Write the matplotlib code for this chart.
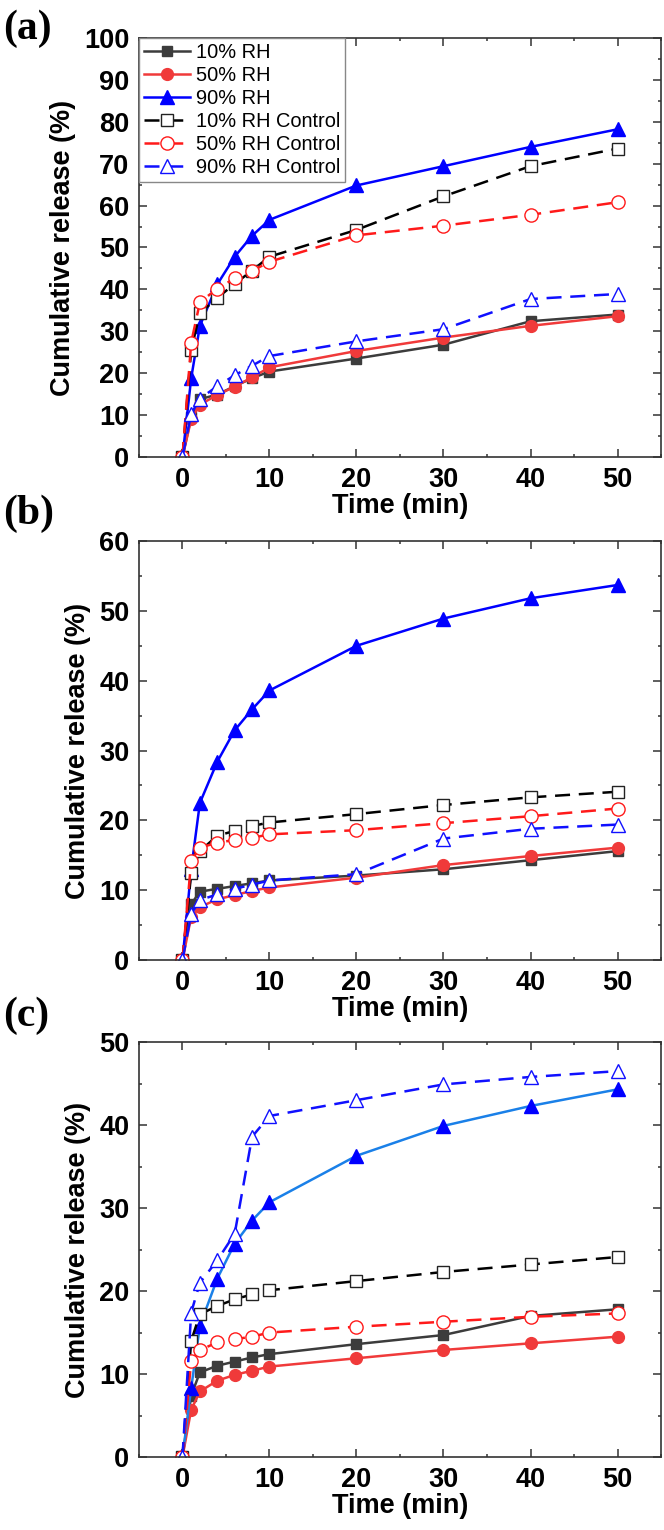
"""Cumulative release vs time at three humidity levels, panels (a)-(c)."""

import matplotlib

matplotlib.use("Agg")
from matplotlib import pyplot as plt
from matplotlib.ticker import MultipleLocator

time_min = [0, 1, 2, 4, 6, 8, 10, 20, 30, 40, 50]

labels = [
    "10% RH",
    "50% RH",
    "90% RH",
    "10% RH Control",
    "50% RH Control",
    "90% RH Control",
]

# panel (a)
a_rh10 = [0, 9.5, 13.8, 14.9, 16.9, 18.8, 20.4, 23.5, 26.8, 32.4, 34.0]
a_rh50 = [0, 9.0, 12.5, 14.8, 16.8, 19.0, 21.4, 25.3, 28.5, 31.3, 33.6]
a_rh90 = [0, 18.8, 31.3, 41.2, 47.8, 52.8, 56.6, 64.8, 69.4, 74.0, 78.2]
a_rh10c = [0, 25.6, 34.3, 38.0, 41.3, 44.5, 47.8, 54.2, 62.2, 69.4, 73.6]
a_rh50c = [0, 27.3, 36.9, 40.2, 42.6, 44.4, 46.6, 52.9, 55.2, 57.8, 60.8]
a_rh90c = [0, 10.3, 13.9, 16.9, 19.5, 21.8, 24.1, 27.6, 30.5, 37.7, 38.9]

# panel (b)
b_rh10 = [0, 8.0, 9.8, 10.2, 10.6, 11.0, 11.4, 12.1, 13.0, 14.3, 15.6]
b_rh50 = [0, 6.2, 7.6, 8.7, 9.3, 9.9, 10.4, 11.8, 13.6, 14.9, 16.1]
b_rh90 = [0, 13.0, 22.5, 28.4, 32.9, 35.9, 38.6, 45.0, 48.9, 51.8, 53.7]
b_rh10c = [0, 12.4, 15.6, 17.8, 18.5, 19.2, 19.7, 20.9, 22.2, 23.3, 24.1]
b_rh50c = [0, 14.2, 16.1, 16.8, 17.2, 17.5, 18.0, 18.6, 19.6, 20.6, 21.7]
b_rh90c = [0, 6.6, 8.6, 9.4, 10.2, 10.8, 11.4, 12.3, 17.4, 18.8, 19.4]

# panel (c)
c_rh10 = [0, 7.4, 10.2, 11.0, 11.5, 12.0, 12.4, 13.6, 14.7, 17.0, 17.8]
c_rh50 = [0, 5.7, 7.9, 9.2, 9.9, 10.4, 10.9, 11.9, 12.9, 13.7, 14.5]
c_rh90 = [0, 8.3, 15.8, 21.5, 25.7, 28.5, 30.7, 36.3, 39.9, 42.3, 44.3]
c_rh10c = [0, 14.0, 17.2, 18.2, 19.0, 19.6, 20.1, 21.2, 22.3, 23.2, 24.1]
c_rh50c = [0, 11.6, 12.9, 13.8, 14.2, 14.5, 15.0, 15.7, 16.3, 16.9, 17.3]
c_rh90c = [0, 17.4, 21.0, 23.7, 26.9, 38.6, 41.1, 43.0, 44.9, 45.8, 46.5]

plt.rcParams["font.family"] = ["Liberation Sans", "DejaVu Sans"]

GRAY = "#3c3c3c"
RED = "#f03a3a"
BLUE = "#0000ff"
DASH = (0, (6, 3.5))

styles = [
    dict(color=GRAY, marker="s", ms=7.5, ls="-", mfc=GRAY, mec=GRAY),
    dict(color=RED, marker="o", ms=8.5, ls="-", mfc=RED, mec=RED),
    dict(color=BLUE, marker="^", ms=10, ls="-", mfc=BLUE, mec=BLUE),
    dict(color="black", marker="s", ms=8.5, ls=DASH, mfc="white", mec="#222222", mew=1.0),
    dict(color="#ff1a1a", marker="o", ms=9.5, ls=DASH, mfc="white", mec="#ff1a1a", mew=1.0),
    dict(color="#1010ff", marker="^", ms=10.5, ls=DASH, mfc="white", mec="#1010ff", mew=1.0),
]


def draw_panel(ax, series, ymax, ystep, line90=None, legend=False):
    for i, (values, label) in enumerate(zip(series, labels)):
        st = dict(styles[i])
        if i == 2 and line90 is not None:
            st["color"] = line90
        ax.plot(time_min, values, label=label, lw=1.8, **st)
    ax.set_xlim(-5, 55)
    ax.set_ylim(0, ymax)
    ax.xaxis.set_major_locator(MultipleLocator(10))
    ax.xaxis.set_minor_locator(MultipleLocator(5))
    ax.yaxis.set_major_locator(MultipleLocator(ystep))
    ax.yaxis.set_minor_locator(MultipleLocator(ystep / 2))
    ax.tick_params(which="both", direction="in", top=True, right=True,
                   labeltop=False, labelright=False, width=1.1, color="#333333")
    ax.tick_params(which="major", length=5.5, pad=7, labelsize=19.5)
    ax.tick_params(which="minor", length=2.5)
    for tick in ax.get_xticklabels() + ax.get_yticklabels():
        tick.set_fontweight("bold")
    for spine in ax.spines.values():
        spine.set_linewidth(1.2)
        spine.set_color("#333333")
    ax.set_xlabel("Time (min)", fontsize=19.5, fontweight="bold", labelpad=0)
    ax.set_ylabel("Cumulative release (%)", fontsize=19.5, fontweight="bold", labelpad=6)
    if legend:
        leg = ax.legend(loc="upper left", fontsize=14.4, borderaxespad=0,
                        handlelength=2.3, handletextpad=0.3, labelspacing=0.2,
                        borderpad=0.25, fancybox=False, framealpha=1)
        leg.get_frame().set_edgecolor("#888888")
        leg.get_frame().set_linewidth(1.0)


fig = plt.figure(figsize=(6.64, 15.3), dpi=100)
ax_a = fig.add_axes([0.2093, 0.7013, 0.7862, 0.2739])
ax_b = fig.add_axes([0.2093, 0.3725, 0.7862, 0.2739])
ax_c = fig.add_axes([0.2093, 0.0477, 0.7862, 0.2712])

draw_panel(ax_a, [a_rh10, a_rh50, a_rh90, a_rh10c, a_rh50c, a_rh90c], 100, 10, legend=True)
draw_panel(ax_b, [b_rh10, b_rh50, b_rh90, b_rh10c, b_rh50c, b_rh90c], 60, 10)
draw_panel(ax_c, [c_rh10, c_rh50, c_rh90, c_rh10c, c_rh50c, c_rh90c], 50, 10, line90="#1a80e8")

for text, y in [("(a)", 0.981), ("(b)", 0.664), ("(c)", 0.336)]:
    fig.text(0.005, y, text, family=["Liberation Serif", "DejaVu Serif"],
             fontweight="bold", fontsize=30, va="center", ha="left")

fig.savefig("out.png", dpi=100)
